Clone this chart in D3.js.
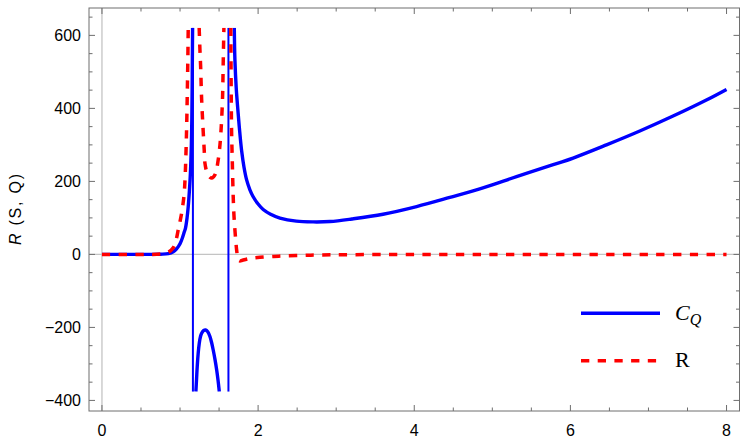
<!DOCTYPE html>
<html>
<head>
<meta charset="utf-8">
<script src="https://cdn.jsdelivr.net/npm/d3@7"></script>
<style>
  body { margin: 0; background: #fff; }
  svg { display: block; font-family: "Liberation Sans", Arial, sans-serif; }
</style>
</head>
<body>
<svg class="chart" width="750" height="442"></svg>
<script>
// tick values
let xMajor = [0, 2, 4, 6, 8];
let yMajor = [-400, -200, 0, 200, 400, 600];

// C_Q, split into branches at the poles
let cqLeft = [[0,0],[0.5,0],[0.75,0.5],[0.85,2],[0.913,7],[0.95,14],[0.98,22],[1.0,29],[1.03,45],[1.055,62],[1.07,72],[1.09,100],[1.105,131],[1.12,175],[1.133,223],[1.145,300],[1.151,370],[1.155,450],[1.158,540],[1.161,621]];
let cqMid = [[1.203,-376],[1.212,-340],[1.22,-308],[1.233,-270],[1.246,-244],[1.262,-225],[1.277,-216],[1.30,-209],[1.328,-207],[1.355,-212],[1.383,-225],[1.405,-242],[1.425,-262],[1.447,-287],[1.469,-316],[1.487,-345],[1.503,-376]];
let cqRight = [[1.695,621],[1.703,533],[1.72,455],[1.745,385],[1.765,335],[1.789,284],[1.82,238],[1.853,204],[1.895,177],[1.937,158],[2.0,138],[2.065,123],[2.16,110],[2.28,99.5],[2.49,91],[2.705,89],[2.92,90],[3.2,97],[3.6,110],[4.03,131],[4.456,156],[4.88,182],[5.31,213],[5.74,243],[6.035,264],[6.462,300],[6.889,338],[7.315,379],[7.742,423],[8,452]];
let cqPoles = [1.165, 1.62];

// R, split the same way
let rLeft = [[0,0],[0.5,0],[0.75,1],[0.85,6],[0.913,18],[0.95,40],[0.977,67],[1.0,90],[1.02,113],[1.05,159],[1.065,210],[1.072,250],[1.084,341],[1.092,430],[1.099,520],[1.105,621]];
let rMid = [[1.245,621],[1.255,560],[1.264,514],[1.277,423],[1.297,336],[1.31,285],[1.319,250],[1.34,228],[1.361,218],[1.385,211],[1.405,209],[1.427,212],[1.447,218],[1.47,235],[1.489,259],[1.507,290],[1.52,323],[1.533,370],[1.545,432],[1.553,524],[1.562,621]];
let rRight = [[1.650,621],[1.653,520],[1.656,430],[1.66,341],[1.67,250],[1.681,159],[1.69,110],[1.703,67],[1.715,35],[1.725,12],[1.735,-5],[1.745,-15],[1.767,-18],[1.8,-16],[1.9,-11],[2.023,-8],[2.2,-5.5],[2.365,-4],[2.6,-2.5],[2.79,-1.5],[3.2,-0.7],[4,-0.2],[5,0],[6,0],[7,0],[8,0]];

let frame = {left: 89, right: 739.5, top: 8, bottom: 411};
let clipTop = 621, clipBottom = -376;

let svg = d3.select(".chart");

let x = d3.scaleLinear().domain([-0.166, 8.166]).range([frame.left, frame.right]);
let y = d3.scaleLinear().domain([-429, 675]).range([frame.bottom, frame.top]);

let line = d3.line()
    .x(d => x(d[0]))
    .y(d => y(d[1]))
    .curve(d3.curveCatmullRom.alpha(0.5));

svg.append("clipPath").attr("id", "clip")
  .append("rect")
    .attr("x", frame.left)
    .attr("y", y(clipTop))
    .attr("width", frame.right - frame.left)
    .attr("height", y(clipBottom) - y(clipTop));

// gray axes through the origin
svg.append("line")
    .attr("x1", frame.left).attr("x2", frame.right)
    .attr("y1", y(0)).attr("y2", y(0))
    .style("stroke", "#c4c4c4").style("stroke-width", 1.3);
svg.append("line")
    .attr("x1", x(0)).attr("x2", x(0))
    .attr("y1", frame.top).attr("y2", frame.bottom)
    .style("stroke", "#c4c4c4").style("stroke-width", 1.3);

let plot = svg.append("g").attr("clip-path", "url(#clip)");

// blue C_Q
plot.selectAll(".pole")
    .data(cqPoles)
    .join("line")
    .attr("class", "pole")
    .attr("x1", d => x(d)).attr("x2", d => x(d))
    .attr("y1", y(clipTop)).attr("y2", y(clipBottom))
    .style("stroke", "#0000ff").style("stroke-width", 2);

plot.selectAll(".cq")
    .data([cqLeft, cqMid, cqRight])
    .join("path")
    .attr("class", "cq")
    .attr("d", line)
    .style("fill", "none")
    .style("stroke", "#0000ff")
    .style("stroke-width", 3.4);

// red dashed R
plot.selectAll(".rr")
    .data([rLeft, rMid, rRight])
    .join("path")
    .attr("class", "rr")
    .attr("d", line)
    .style("fill", "none")
    .style("stroke", "#ff0000")
    .style("stroke-width", 3.5)
    .style("stroke-dasharray", "8.3,8.4");

// frame with ticks on all four sides
let frameColor = "#6e6e6e";
svg.append("rect")
    .attr("x", frame.left).attr("y", frame.top)
    .attr("width", frame.right - frame.left)
    .attr("height", frame.bottom - frame.top)
    .style("fill", "none").style("stroke", frameColor).style("stroke-width", 1);

let xMinor = d3.range(0, 8.01, 0.5);
let yMinor = d3.range(-400, 651, 50);

function tickLen(major, v) { return major.includes(v) ? 6 : 3.5; }

svg.append("g").selectAll("line")
    .data(xMinor)
    .join("line")
    .attr("x1", d => x(d)).attr("x2", d => x(d))
    .attr("y1", frame.bottom).attr("y2", d => frame.bottom - tickLen(xMajor, d))
    .style("stroke", frameColor);
svg.append("g").selectAll("line")
    .data(xMinor)
    .join("line")
    .attr("x1", d => x(d)).attr("x2", d => x(d))
    .attr("y1", frame.top).attr("y2", d => frame.top + tickLen(xMajor, d))
    .style("stroke", frameColor);
svg.append("g").selectAll("line")
    .data(yMinor)
    .join("line")
    .attr("y1", d => y(d)).attr("y2", d => y(d))
    .attr("x1", frame.left).attr("x2", d => frame.left + tickLen(yMajor, d))
    .style("stroke", frameColor);
svg.append("g").selectAll("line")
    .data(yMinor)
    .join("line")
    .attr("y1", d => y(d)).attr("y2", d => y(d))
    .attr("x1", frame.right).attr("x2", d => frame.right - tickLen(yMajor, d))
    .style("stroke", frameColor);

// tick labels
svg.append("g").selectAll("text")
    .data(xMajor)
    .join("text")
    .attr("x", d => x(d))
    .attr("y", 436)
    .attr("text-anchor", "middle")
    .attr("font-size", 16)
    .text(d => d);

svg.append("g").selectAll("text")
    .data(yMajor)
    .join("text")
    .attr("x", 81)
    .attr("y", d => y(d))
    .attr("dy", "0.36em")
    .attr("text-anchor", "end")
    .attr("font-size", 16)
    .text(d => d < 0 ? "\u2212" + Math.abs(d) : d);

// y label
let ylab = svg.append("text")
    .attr("transform", "translate(21," + (frame.top + frame.bottom) / 2 + ")rotate(-90)")
    .attr("text-anchor", "middle")
    .attr("font-size", 16)
    .attr("textLength", 71)
    .attr("lengthAdjust", "spacing");
ylab.append("tspan").style("font-style", "italic").text("R");
ylab.append("tspan").text(" (S, Q)");

// legend
let legend = svg.append("g").style("font-family", "'Liberation Serif', 'Times New Roman', serif");
legend.append("line")
    .attr("x1", 581).attr("x2", 660).attr("y1", 313.3).attr("y2", 313.3)
    .style("stroke", "#0000ff").style("stroke-width", 3.4);
legend.append("line")
    .attr("x1", 581).attr("x2", 657).attr("y1", 360.7).attr("y2", 360.7)
    .style("stroke", "#ff0000").style("stroke-width", 3.5)
    .style("stroke-dasharray", "8.3,8.4");
let cq = legend.append("text").attr("x", 675).attr("y", 320).attr("font-size", 22);
cq.append("tspan").style("font-style", "italic").text("C");
cq.append("tspan").style("font-style", "italic").attr("font-size", 16).attr("dy", 5).text("Q");
legend.append("text").attr("x", 675).attr("y", 367).attr("font-size", 22).text("R");
</script>
</body>
</html>
